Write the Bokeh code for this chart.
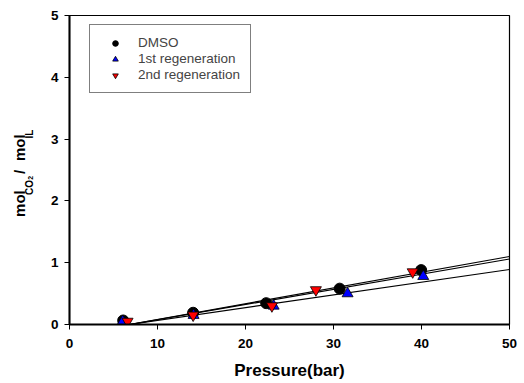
import math
import numpy as np
from bokeh.plotting import figure
from bokeh.layouts import row
from bokeh.models import Range1d, Legend, LegendItem
from bokeh.core.properties import value
from bokeh.embed import file_html
from bokeh.resources import INLINE

# ---- data ----
dmso_p = [6.1, 14.05, 22.35, 30.7, 39.96]
dmso_v = [0.065, 0.19, 0.345, 0.58, 0.88]
reg1_p = [6.05, 14.1, 23.2, 31.6, 40.2]
reg1_v = [0.05, 0.15, 0.30, 0.50, 0.78]
reg2_p = [6.6, 14.05, 23.0, 28.0, 39.0]
reg2_v = [0.05, 0.15, 0.30, 0.56, 0.85]
# regression lines (slope, intercept) for DMSO, 1st, 2nd
fit_slope = [0.02546, 0.0206, 0.02454]
fit_intercept = [-0.173, -0.140, -0.167]
x_max = 50
x_ticks = [0, 10, 20, 30, 40, 50]
y_ticks = [0, 1, 2, 3, 4, 5]

FONT = "Liberation Sans"
H = 382
LW = 44
DX, DY = -7, -26   # empirical correction of the rotated-text anchor

# ---- narrow panel that carries the rotated y-axis title with subscripts ----
lab = figure(width=LW, height=H, x_range=Range1d(0, LW), y_range=Range1d(0, H),
             x_axis_type=None, y_axis_type=None,
             output_backend="svg", toolbar_location=None,
             min_border_left=0, min_border_right=0, min_border_top=0, min_border_bottom=0)
lab.grid.visible = False
lab.outline_line_color = None
lab.toolbar.active_drag = None
lab.toolbar.active_scroll = None
parts = [("mol", 26, H - 223, "15px"), ("CO", 36, H - 196, "10px"), ("2", 37, H - 177, "7px"),
         ("/", 26, H - 170, "15px"), ("mol", 26, H - 154, "15px"), ("IL", 36, H - 126, "10px")]
for t, xs, ys, fs in parts:
    lab.text(x=[xs + DX], y=[ys + DY], text=[t], angle=math.pi / 2,
             text_font=value(FONT), text_font_style="bold", text_font_size=value(fs),
             text_align="left", text_baseline="alphabetic", text_color="black")

# ---- main chart ----
p = figure(width=526 - LW - 4, height=H, x_range=Range1d(0, 50), y_range=Range1d(0, 5),
           output_backend="svg", toolbar_location=None,
           min_border_left=69 - LW, min_border_right=13, min_border_top=15, min_border_bottom=H - 325)
p.xgrid.visible = False
p.ygrid.visible = False
p.outline_line_color = "black"
p.outline_line_width = 1.2
p.background_fill_color = "white"
p.border_fill_color = "white"

for ax, ticks in ((p.xaxis, x_ticks), (p.yaxis, y_ticks)):
    ax.ticker = ticks
    ax.axis_line_width = 2
    ax.axis_line_color = "black"
    ax.major_tick_out = 5
    ax.major_tick_in = 0
    ax.minor_tick_line_color = None
    ax.major_tick_line_color = "black"
    ax.major_tick_line_width = 1
    ax.major_label_text_font = FONT
    ax.major_label_text_font_style = "bold"
    ax.major_label_text_font_size = "13.5px"
    ax.major_label_text_color = "black"
p.xaxis.major_label_standoff = 9
p.yaxis.major_label_standoff = 6
p.xaxis.axis_label = "Pressure(bar)"
p.xaxis.axis_label_text_font = FONT
p.xaxis.axis_label_text_font_style = "bold"
p.xaxis.axis_label_text_font_size = "17px"
p.xaxis.axis_label_text_color = "black"
p.xaxis.axis_label_standoff = 10

# regression lines
for s, b in zip(fit_slope, fit_intercept):
    x0 = -b / s
    p.line([x0, x_max], [s * x0 + b, s * x_max + b], line_color="black", line_width=1.2)

r1 = p.scatter(dmso_p, dmso_v, marker="circle", size=11, fill_color="black", line_color="black")
r2 = p.scatter(reg1_p, reg1_v, marker="triangle", size=11, fill_color="blue", line_color="black", line_width=0.8)
r3 = p.scatter(reg2_p, reg2_v, marker="inverted_triangle", size=11, fill_color="red", line_color="black", line_width=0.8)

legend = Legend(items=[LegendItem(label="DMSO", renderers=[r1]),
                       LegendItem(label="1st regeneration", renderers=[r2]),
                       LegendItem(label="2nd regeneration", renderers=[r3])],
                location=(20, 231))
legend.margin = 0
legend.padding = 10
legend.spacing = 1
legend.glyph_width = 30
legend.glyph_height = 14
legend.label_height = 14
legend.label_standoff = 8
legend.label_text_font = FONT
legend.label_text_font_size = "13.5px"
legend.border_line_color = "black"
legend.border_line_width = 1.2
legend.background_fill_alpha = 1
p.add_layout(legend)

layout = row(lab, p, spacing=0)
open("out.html", "w").write(file_html(layout, INLINE))
